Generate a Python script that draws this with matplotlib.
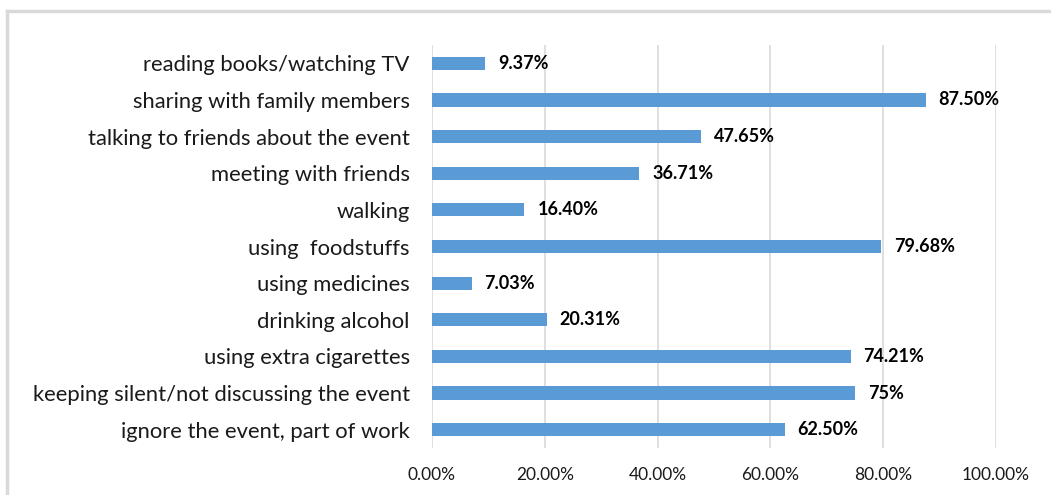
import numpy as np
import matplotlib
matplotlib.use("Agg")
from matplotlib import pyplot as plt
from matplotlib.lines import Line2D

# categories listed bottom -> top
categories = ["ignore the event, part of work",
              "keeping silent/not discussing the event",
              "using extra cigarettes",
              "drinking alcohol",
              "using medicines",
              "using  foodstuffs",
              "walking",
              "meeting with friends",
              "talking to friends about the event",
              "sharing with family members",
              "reading books/watching TV"]
values = [62.50, 75, 74.21, 20.31, 7.03, 79.68, 16.40, 36.71, 47.65, 87.50, 9.37]
value_labels = ["62.50%", "75%", "74.21%", "20.31%", "7.03%", "79.68%",
                "16.40%", "36.71%", "47.65%", "87.50%", "9.37%"]
xticks = [0, 20, 40, 60, 80, 100]

plt.rcParams['font.family'] = ['Lato', 'DejaVu Sans']

fig = plt.figure(figsize=(10.51, 4.95), dpi=100)
ax = fig.add_axes([0.411, 0.095, 0.5367, 0.814])

y = np.arange(len(categories))
ax.barh(y, values, height=0.36, color="#5B9BD5", zorder=3)

for yi, v, lab in zip(y, values, value_labels):
    ax.annotate(lab, (v, yi), xytext=(13, 0), textcoords="offset pixels",
                va="center", ha="left", fontsize=13, fontweight="bold",
                color="#000000")

ax.set_xlim(0, 100)
ax.set_ylim(-0.5, len(categories) - 0.5)
ax.set_xticks(xticks)
ax.set_xticklabels(["%.2f%%" % t for t in xticks], fontsize=12.5, color="#1a1a1a")
ax.set_yticks(y)
ax.set_yticklabels(categories, fontsize=15.8, color="#1a1a1a")
ax.tick_params(axis="both", length=0)
ax.tick_params(axis="y", pad=16)
ax.tick_params(axis="x", pad=14)
ax.grid(axis="x", color="#d9d9d9", linewidth=1.2, zorder=0)
for s in ax.spines.values():
    s.set_visible(False)

# outer frame (top and left only visible)
fig.add_artist(Line2D([0.0062, 0.0062], [0, 0.978], transform=fig.transFigure,
                      color="#d9d9d9", linewidth=2.5))
fig.add_artist(Line2D([0.0062, 1], [0.978, 0.978], transform=fig.transFigure,
                      color="#d9d9d9", linewidth=2.5))

fig.savefig("out.png", dpi=100)
